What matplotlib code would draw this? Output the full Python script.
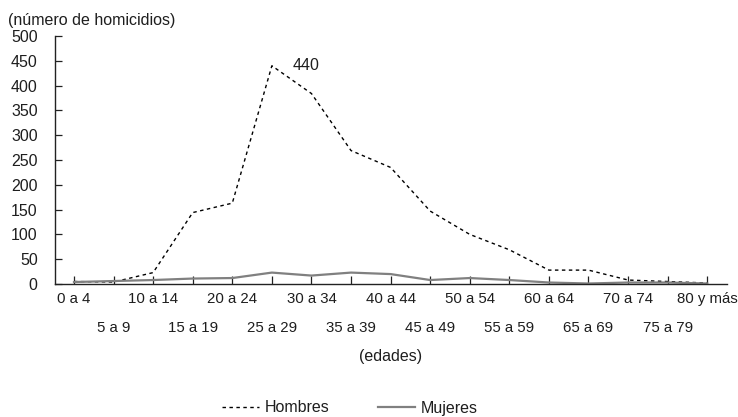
import numpy as np
import matplotlib
matplotlib.use("Agg")
import matplotlib.pyplot as plt
from matplotlib.ticker import FixedLocator, FixedFormatter

plt.rcParams['font.family'] = ['Liberation Sans', 'DejaVu Sans']

# age groups
categories = ["0 a 4", "5 a 9", "10 a 14", "15 a 19", "20 a 24", "25 a 29",
              "30 a 34", "35 a 39", "40 a 44", "45 a 49", "50 a 54", "55 a 59",
              "60 a 64", "65 a 69", "70 a 74", "75 a 79", "80 y más"]
hombres = [5, 4, 23, 144, 163, 440, 384, 269, 235, 147, 100, 69, 28, 28, 8, 5, 2]
mujeres = [4, 6, 8, 11, 12, 23, 17, 23, 20, 8, 12, 8, 3, 1, 3, 3, 1]
yticks = [0, 50, 100, 150, 200, 250, 300, 350, 400, 450, 500]
peak_label = "440"

FS = 11.5
XFS = 10.8
TXT = '#1e1e1e'

W, H = 738, 417
fig = plt.figure(figsize=(W / 100, H / 100), dpi=100)
ax = fig.add_axes([55 / W, (H - 284) / H, (727 - 55) / W, (284 - 36) / H])

x = np.arange(len(categories))
ax.plot(x, hombres, color='black', lw=1.0, linestyle=(0, (2.5, 2.5)), label='Hombres')
ax.plot(x, mujeres, color='#808080', lw=1.6, label='Mujeres')

ax.set_xlim(-0.48, len(categories) - 0.5)
ax.set_ylim(0, 500)

ax.spines['top'].set_visible(False)
ax.spines['right'].set_visible(False)
for s in ('left', 'bottom'):
    ax.spines[s].set_linewidth(1.0)
    ax.spines[s].set_color('#222222')

# two rows of labels: even groups on top row, odd groups below
ax.xaxis.set_major_locator(FixedLocator(x[::2]))
ax.set_xticklabels(categories[::2])
ax.xaxis.set_minor_locator(FixedLocator(x[1::2]))
ax.xaxis.set_minor_formatter(FixedFormatter(categories[1::2]))
ax.tick_params(axis='x', which='major', direction='in', length=5.5, width=0.9,
               pad=6, labelsize=XFS, colors='#222222', labelcolor=TXT)
ax.tick_params(axis='x', which='minor', direction='in', length=5.5, width=0.9,
               pad=26.5, labelsize=XFS, colors='#222222', labelcolor=TXT)

ax.set_yticks(yticks)
ax.tick_params(axis='y', direction='in', length=5, width=0.9, pad=12.5,
               labelsize=FS, colors='#222222', labelcolor=TXT)

ax.annotate(peak_label, xy=(5, hombres[5]), xytext=(21, 0),
            textcoords='offset pixels', ha='left', va='center',
            fontsize=FS, color=TXT)

fig.text(8 / W, (H - 20) / H, "(número de homicidios)", ha='left', va='center',
         fontsize=FS, color=TXT)
fig.text(391 / W, (H - 356) / H, "(edades)", ha='center', va='center',
         fontsize=FS, color=TXT)

fig.legend(loc='center', bbox_to_anchor=(350 / W, (H - 408) / H), ncol=2,
           frameon=False, fontsize=FS, handlelength=2.3, handletextpad=0.4,
           columnspacing=3.0, labelcolor=TXT)

fig.savefig("out.png", dpi=100)
